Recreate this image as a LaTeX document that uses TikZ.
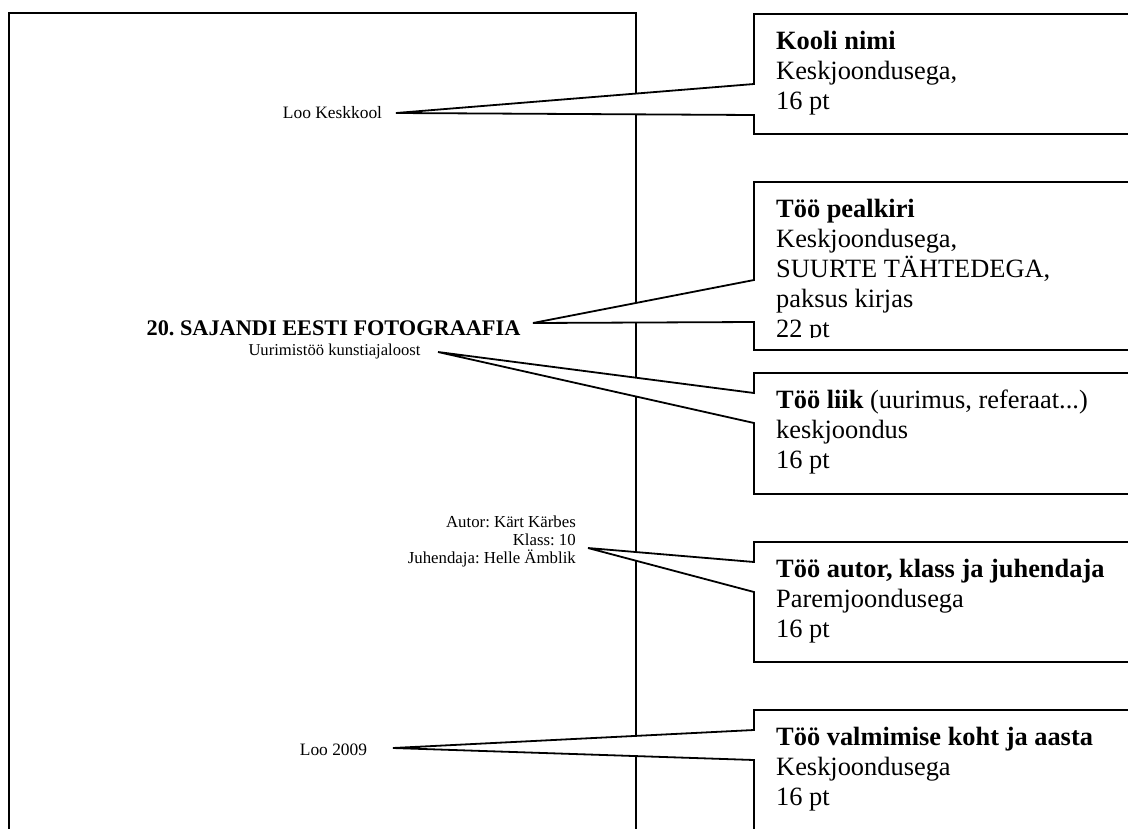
\documentclass[tikz,border=0pt]{standalone}
\usepackage{fontspec}
\setmainfont{Liberation Serif}
\frenchspacing

\begin{document}
\begin{tikzpicture}[x=1pt, y=-1pt,
  pageline/.style={line width=1.6pt},
  callout/.style={line width=1.8pt, fill=white},
  boxtext/.style={anchor=north west, inner sep=0pt, align=left,
    font=\fontsize{26.4}{30}\selectfont},
  small/.style={inner sep=0pt, font=\fontsize{17.4}{18}\selectfont}]

\useasboundingbox (0,0) rectangle (1128,828);
\clip (0,0) rectangle (1128,828);

% left edge of the boxes, right one is off the picture
\def \boxL {754}
\def \boxR {1140}
\def \textL {776}

% The page
\draw[pageline] (9,840) -- (9,13) -- (636,13) -- (636,840);

% texts on the page
\node[small, anchor=base] (kool) at (332.5,118) {Loo Keskkool};
\node[anchor=base, inner sep=0pt, font=\fontsize{22.3}{26}\selectfont\bfseries]
  (pealkiri) at (333.5,335) {20. SAJANDI EESTI FOTOGRAAFIA};
\node[small, anchor=base, font=\fontsize{16.6}{18}\selectfont]
  (liik) at (334.5,355) {Uurimistöö kunstiajaloost};
\node[small, anchor=north east, align=right, font=\fontsize{16.8}{18}\selectfont]
  (autor) at (576,514.4) {\strut Autor: Kärt Kärbes\\Klass: 10\\Juhendaja: Helle Ämblik};
\node[small, anchor=base] (koht) at (333.5,755) {Loo 2009};

% pointer tips
\coordinate (koolTip)     at (396,113);
\coordinate (pealkiriTip) at (533,323);
\coordinate (liikTip)     at (438,352);
\coordinate (autorTip)    at (588,548);
\coordinate (kohtTip)     at (393,748);

% Kooli nimi
\draw[callout] (\boxL,14) -- (\boxL,84) -- (koolTip) -- (\boxL,115)
  -- (\boxL,134) -- (\boxR,134) -- (\boxR,14) -- cycle;
\node[boxtext] (kooliBox) at (\textL,28)
  {\strut\textbf{Kooli nimi}\\Keskjoondusega,\\16 pt};

% Too pealkiri, last line is cut by the box
\draw[callout] (\boxL,182) -- (\boxL,280) -- (pealkiriTip) -- (\boxL,322)
  -- (\boxL,350) -- (\boxR,350) -- (\boxR,182) -- cycle;
\begin{scope}
\clip (\boxL,182) rectangle (\boxR,337.5);
\node[boxtext] (pealkiriBox) at (\textL,196)
  {\strut\textbf{Töö pealkiri}\\Keskjoondusega,\\SUURTE TÄHTEDEGA,\\paksus kirjas\\22 pt};
\end{scope}

% Too liik
\draw[callout] (\boxL,373) -- (\boxL,393) -- (liikTip) -- (\boxL,423)
  -- (\boxL,494) -- (\boxR,494) -- (\boxR,373) -- cycle;
\node[boxtext] (liikBox) at (\textL,387)
  {\strut\textbf{Töö liik} (uurimus, referaat...)\\keskjoondus\\16 pt};

% autor, klass ja juhendaja
\draw[callout] (\boxL,542) -- (\boxL,562) -- (autorTip) -- (\boxL,592)
  -- (\boxL,662) -- (\boxR,662) -- (\boxR,542) -- cycle;
\node[boxtext] (autorBox) at (\textL,556)
  {\strut\textbf{Töö autor, klass ja juhendaja}\\Paremjoondusega\\16 pt};

% koht ja aasta, box goes past the bottom
\draw[callout] (\boxL,710) -- (\boxL,730) -- (kohtTip) -- (\boxL,760)
  -- (\boxL,850) -- (\boxR,850) -- (\boxR,710) -- cycle;
\node[boxtext] (kohtBox) at (\textL,724)
  {\strut\textbf{Töö valmimise koht ja aasta}\\Keskjoondusega\\16 pt};

\end{tikzpicture}
\end{document}
